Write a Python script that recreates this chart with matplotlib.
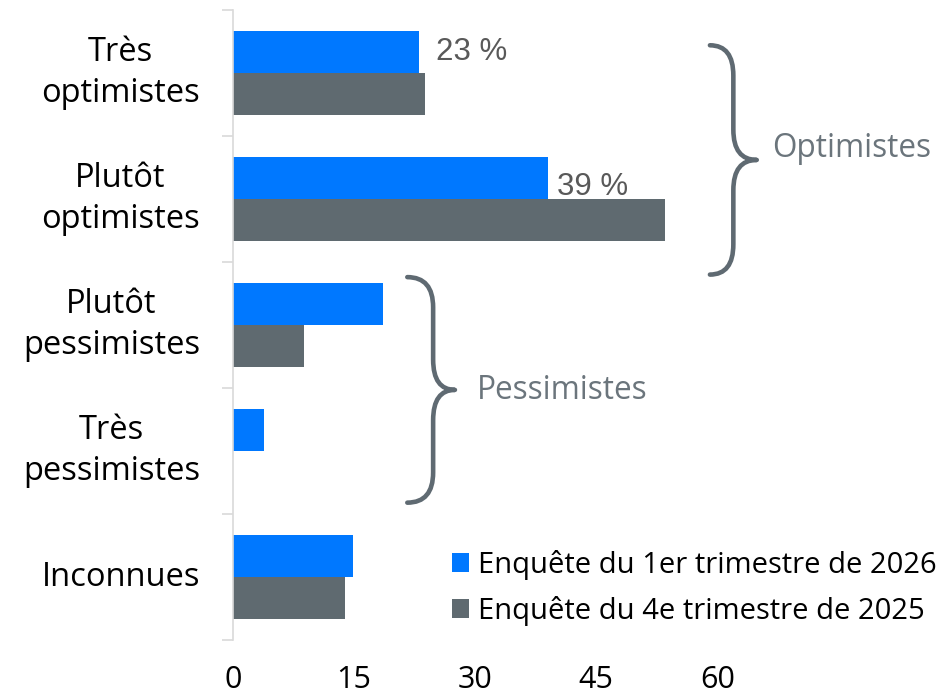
import matplotlib.pyplot as plt
import numpy as np
from matplotlib.path import Path
from matplotlib.patches import PathPatch, Patch

plt.rcParams['font.family'] = ['Open Sans', 'DejaVu Sans']

# values (percent)
categories = ["Très\noptimistes", "Plutôt\noptimistes", "Plutôt\npessimistes",
              "Très\npessimistes", "Inconnues"]
q1_2026 = [23, 39, 18.6, 3.9, 14.9]
q4_2025 = [23.8, 53.5, 8.8, 0, 13.9]
series_names = ["Enquête du 1er trimestre de 2026", "Enquête du 4e trimestre de 2025"]
xticks = [0, 15, 30, 45, 60]

blue = "#0078ff"
grey = "#5f6a70"
brace_col = "#5f6a72"
axis_col = "#d9d9d9"

fig = plt.figure(figsize=(9.53, 6.97), dpi=100)
ax = fig.add_axes([233 / 953, 57 / 697, 720 / 953, 630 / 697])

y = np.arange(len(categories))
h = 1 / 3
ax.barh(y - h / 2, q1_2026, height=h, color=blue)
ax.barh(y + h / 2, q4_2025, height=h, color=grey)

ax.set_xlim(0, 720 / 8.07)
ax.set_ylim(len(categories) - 0.5, -0.5)

# category labels drawn as texts so they can be centred as in the original
ax.set_yticks(y)
ax.set_yticklabels([])
ax.tick_params(axis='y', which='major', length=0)
for yi, cat in zip(y, categories):
    ax.text(-33 / 720, yi, cat, transform=ax.get_yaxis_transform(),
            fontsize=23.5, linespacing=1.3, ha='right', va='center',
            multialignment='center')
ax.set_yticks(np.arange(len(categories) + 1) - 0.5, minor=True)
ax.tick_params(axis='y', which='minor', length=8, width=1.2, color=axis_col)

ax.set_xticks(xticks)
ax.set_xticklabels([str(t) for t in xticks], fontsize=22)
ax.tick_params(axis='x', length=0, pad=18)

for s in ['top', 'right', 'bottom']:
    ax.spines[s].set_visible(False)
ax.spines['left'].set_color(axis_col)
ax.spines['left'].set_linewidth(1.2)

# data labels
ax.text(q1_2026[0] + 2.1, 0 - h / 2, "23 %", fontsize=22.5, color="#595959",
        family='Liberation Sans', va='center')
ax.text(q1_2026[1] + 1.1, 1 - h / 2 + 0.07, "39 %", fontsize=22.5, color="#595959",
        family='Liberation Sans', va='center')


def brace(x0, xm, xt, yt, yb, r=0.24):
    ym = (yt + yb) / 2
    verts = [(x0, yt), (xm, yt), (xm, yt + r),
             (xm, ym - r),
             (xm, ym), (xt, ym),
             (xm, ym), (xm, ym + r),
             (xm, yb - r),
             (xm, yb), (x0, yb)]
    codes = [Path.MOVETO, Path.CURVE3, Path.CURVE3,
             Path.LINETO,
             Path.CURVE3, Path.CURVE3,
             Path.CURVE3, Path.CURVE3,
             Path.LINETO,
             Path.CURVE3, Path.CURVE3]
    p = PathPatch(Path(verts, codes), fill=False, edgecolor=brace_col, lw=3.3,
                  capstyle='round', joinstyle='round', clip_on=False)
    ax.add_patch(p)


brace(59.1, 62.0, 64.9, -0.22, 1.60)
brace(21.6, 24.8, 27.5, 1.62, 3.41)
ax.text(66.8, 0.60, "Optimistes", fontsize=22.7, color="#6b757c", va='center')
ax.text(30.2, 2.52, "Pessimistes", fontsize=22.7, color="#6b757c", va='center')

handles = [Patch(facecolor=blue), Patch(facecolor=grey)]
fig.legend(handles, series_names, loc='upper left',
           bbox_to_anchor=(452 / 953, 1 - 550 / 697), frameon=False,
           fontsize=21, handlelength=0.6, handleheight=0.6,
           handletextpad=0.3, labelspacing=0.55, borderpad=0, borderaxespad=0)

plt.savefig("out.png", dpi=100)
